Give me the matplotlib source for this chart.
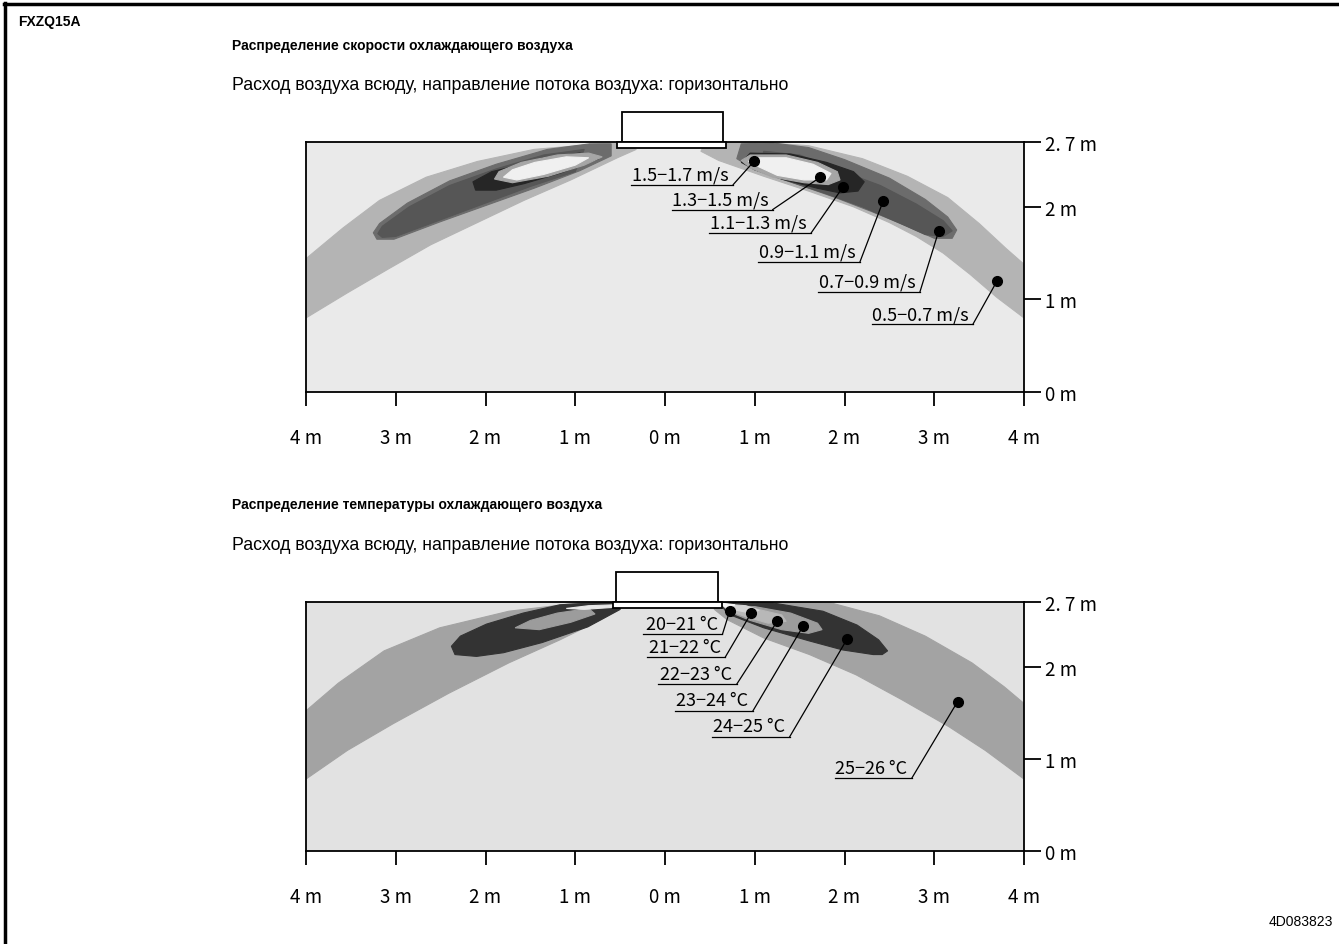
import matplotlib
matplotlib.use("Agg")
import matplotlib.pyplot as plt
from matplotlib.patches import Polygon, Rectangle
from matplotlib.lines import Line2D

# ---- axis ticks ----
x_ticks = [-4, -3, -2, -1, 0, 1, 2, 3, 4]
x_labels = ["4 m", "3 m", "2 m", "1 m", "0 m", "1 m", "2 m", "3 m", "4 m"]
y_ticks = [0, 1, 2, 2.7]
y_labels = ["0 m", "1 m", "2 m", "2. 7 m"]

# ---- velocity panel: band outlines (m) ----
v_05_left = [(-0.45, 2.69), (-0.74, 2.68), (-1.46, 2.62), (-2.09, 2.49), (-2.66, 2.32), (-3.18, 2.07),
             (-3.59, 1.77), (-4.0, 1.44), (-4.0, 0.80), (-3.54, 1.07), (-3.08, 1.33), (-2.61, 1.59),
             (-2.09, 1.83), (-1.57, 2.07), (-1.05, 2.29), (-0.53, 2.53), (-0.32, 2.62)]
v_05_right = [(0.45, 2.69), (1.0, 2.70), (1.6, 2.66), (2.2, 2.52), (2.7, 2.33), (3.15, 2.10), (3.5, 1.82),
              (3.8, 1.55), (4.0, 1.38), (4.0, 0.80), (3.7, 1.02), (3.4, 1.27), (3.1, 1.50), (2.8, 1.68),
              (2.5, 1.83), (2.1, 2.00), (1.6, 2.17), (1.1, 2.33), (0.6, 2.50), (0.4, 2.60)]
v_07_left = [(-0.6, 2.68), (-0.84, 2.68), (-1.31, 2.62), (-1.88, 2.46), (-2.40, 2.28), (-2.87, 2.04),
             (-3.18, 1.82), (-3.25, 1.72), (-3.21, 1.65), (-3.02, 1.65), (-2.50, 1.84), (-1.98, 2.02),
             (-1.46, 2.20), (-0.95, 2.39), (-0.6, 2.55)]
v_07_right = [(0.85, 2.68), (1.2, 2.69), (1.6, 2.64), (2.0, 2.51), (2.5, 2.31), (2.9, 2.08), (3.15, 1.89),
              (3.25, 1.75), (3.2, 1.66), (3.0, 1.66), (2.7, 1.79), (2.3, 1.95), (1.9, 2.10), (1.4, 2.27),
              (1.0, 2.40), (0.8, 2.52)]
v_09_left = [(-0.9, 2.62), (-1.35, 2.56), (-1.88, 2.41), (-2.40, 2.23), (-2.85, 2.00), (-3.15, 1.79),
             (-3.2, 1.71), (-3.15, 1.67), (-3.0, 1.68), (-2.5, 1.86), (-2.0, 2.04), (-1.5, 2.22), (-1.0, 2.38)]
v_09_right = [(1.1, 2.60), (1.5, 2.56), (1.9, 2.41), (2.4, 2.23), (2.8, 2.03), (3.1, 1.85), (3.2, 1.74),
              (3.1, 1.68), (2.9, 1.70), (2.6, 1.83), (2.2, 2.0), (1.8, 2.14), (1.3, 2.3), (1.05, 2.42)]
v_11_left = [(-1.62, 2.45), (-1.93, 2.38), (-2.14, 2.27), (-2.11, 2.18), (-1.88, 2.18), (-1.57, 2.25),
             (-1.15, 2.37), (-0.74, 2.52), (-0.95, 2.58), (-1.36, 2.53)]
v_11_right = [(0.95, 2.58), (1.4, 2.57), (1.8, 2.48), (2.1, 2.38), (2.22, 2.27), (2.15, 2.17), (1.95, 2.15),
              (1.7, 2.20), (1.3, 2.30), (1.0, 2.40), (0.85, 2.48)]
v_13_left = [(-1.9, 2.30), (-1.85, 2.38), (-1.6, 2.48), (-1.2, 2.56), (-0.85, 2.58), (-0.7, 2.54),
             (-0.9, 2.45), (-1.3, 2.33), (-1.7, 2.26)]
v_13_right = [(0.95, 2.56), (1.35, 2.56), (1.7, 2.48), (1.92, 2.38), (1.95, 2.29), (1.82, 2.24),
              (1.55, 2.26), (1.2, 2.32), (0.95, 2.42), (0.85, 2.50)]
v_15_left = [(-1.8, 2.32), (-1.7, 2.40), (-1.45, 2.48), (-1.1, 2.54), (-0.85, 2.53), (-1.0, 2.45),
             (-1.35, 2.35), (-1.65, 2.29)]
v_15_right = [(1.0, 2.53), (1.35, 2.53), (1.65, 2.46), (1.85, 2.36), (1.80, 2.29), (1.55, 2.29),
              (1.25, 2.34), (1.05, 2.43), (0.93, 2.49)]

v_labels = ["1.5−1.7 m/s", "1.3−1.5 m/s", "1.1−1.3 m/s", "0.9−1.1 m/s", "0.7−0.9 m/s", "0.5−0.7 m/s"]
v_dot_x = [0.99, 1.73, 1.98, 2.43, 3.05, 3.70]
v_dot_y = [2.49, 2.32, 2.21, 2.06, 1.74, 1.20]
v_line_x0 = [-0.38, 0.08, 0.49, 1.04, 1.70, 2.31]
v_line_x1 = [0.76, 1.20, 1.63, 2.17, 2.84, 3.43]
v_line_y = [2.24, 1.97, 1.72, 1.40, 1.08, 0.73]

# ---- temperature panel ----
t_25_left = [(-0.5, 2.70), (-0.96, 2.69), (-1.74, 2.60), (-2.51, 2.42), (-3.13, 2.17), (-3.64, 1.82),
             (-4.0, 1.52), (-4.0, 0.78), (-3.54, 1.09), (-3.03, 1.38), (-2.41, 1.71), (-1.74, 2.04),
             (-1.17, 2.29), (-0.71, 2.51), (-0.5, 2.62)]
t_25_right = [(0.55, 2.70), (1.1, 2.70), (1.85, 2.69), (2.39, 2.55), (2.9, 2.33), (3.42, 2.04), (3.78, 1.78),
              (4.0, 1.60), (4.0, 0.78), (3.57, 1.09), (3.16, 1.35), (2.64, 1.64), (2.13, 1.91), (1.61, 2.13),
              (1.10, 2.31), (0.69, 2.51), (0.55, 2.62)]
t_24_left = [(-0.5, 2.70), (-0.8, 2.69), (-1.17, 2.67), (-1.58, 2.58), (-1.99, 2.46), (-2.28, 2.33),
             (-2.38, 2.22), (-2.34, 2.13), (-2.1, 2.11), (-1.8, 2.15), (-1.37, 2.26), (-0.86, 2.43), (-0.5, 2.62)]
t_24_right = [(0.6, 2.70), (1.2, 2.69), (1.76, 2.60), (2.14, 2.45), (2.38, 2.29), (2.48, 2.17), (2.42, 2.13),
              (2.32, 2.13), (1.98, 2.18), (1.6, 2.28), (1.1, 2.42), (0.7, 2.57)]
t_23_left = [(-1.67, 2.42), (-1.5, 2.50), (-1.2, 2.58), (-0.85, 2.63), (-0.78, 2.57), (-1.05, 2.48),
             (-1.4, 2.40)]
t_23_right = [(0.65, 2.66), (1.0, 2.65), (1.4, 2.58), (1.7, 2.47), (1.75, 2.40), (1.6, 2.36), (1.3, 2.40),
              (0.95, 2.50), (0.7, 2.60)]
t_22_right = [(0.65, 2.66), (0.95, 2.64), (1.3, 2.56), (1.35, 2.49), (1.15, 2.47), (0.9, 2.54), (0.7, 2.61)]
t_21_left = [(-0.55, 2.67), (-0.85, 2.66), (-1.1, 2.63), (-0.9, 2.62), (-0.6, 2.64)]
t_21_right = [(0.62, 2.68), (0.9, 2.66), (1.05, 2.61), (0.95, 2.58), (0.75, 2.62)]
t_20_right = [(0.6, 2.69), (0.78, 2.67), (0.7, 2.63)]

t_labels = ["20−21 °C", "21−22 °C", "22−23 °C", "23−24 °C", "24−25 °C", "25−26 °C"]
t_dot_x = [0.72, 0.96, 1.25, 1.54, 2.03, 3.26]
t_dot_y = [2.60, 2.58, 2.49, 2.44, 2.30, 1.62]
t_line_x0 = [-0.25, -0.20, -0.08, 0.11, 0.52, 1.89]
t_line_x1 = [0.64, 0.67, 0.80, 0.98, 1.39, 2.75]
t_line_y = [2.35, 2.10, 1.81, 1.52, 1.24, 0.79]

JP = ["Noto Sans CJK JP", "DejaVu Sans"]
NARROW = ["Liberation Sans Narrow", "Liberation Sans", "DejaVu Sans"]
ARIAL = ["Liberation Sans", "DejaVu Sans"]

fig = plt.figure(figsize=(13.39, 9.45), dpi=100)


def setup_axes(ax, bg):
    ax.set_xlim(-4, 4)
    ax.set_ylim(0, 2.7)
    ax.set_facecolor(bg)
    for s in ["left", "right", "top", "bottom"]:
        ax.spines[s].set_linewidth(1.3)
    ax.set_xticks(x_ticks)
    ax.set_xticklabels(x_labels, family=JP, fontsize=13.5)
    ax.tick_params(axis="x", direction="out", length=10, width=1.3, pad=15)
    ax.yaxis.tick_right()
    ax.set_yticks(y_ticks)
    ax.set_yticklabels(y_labels, family=JP, fontsize=13.5)
    ax.tick_params(axis="y", direction="out", length=12, width=1.3, pad=3)


def draw_unit(ax, bx0, bx1, px0, px1):
    ax.add_patch(Rectangle((bx0, 2.7), bx1 - bx0, 0.32, fc="white", ec="black", lw=1.3, clip_on=False, zorder=5))
    ax.add_patch(Rectangle((px0, 2.635), px1 - px0, 0.065, fc="white", ec="black", lw=1.3, clip_on=False, zorder=6))


def draw_labels(ax, labels, dx, dy, lx0, lx1, ly):
    for i in range(len(labels)):
        ax.plot([lx0[i], lx1[i]], [ly[i], ly[i]], color="black", lw=0.9, zorder=7)
        ax.plot([lx1[i], dx[i]], [ly[i], dy[i]], color="black", lw=0.9, zorder=7)
        ax.plot(dx[i], dy[i], "o", color="black", ms=7, zorder=8)
        ax.text(lx1[i] - 0.05, ly[i] + 0.015, labels[i], ha="right", va="bottom",
                family=JP, fontsize=13, zorder=8)


# velocity
ax1 = fig.add_axes([306 / 1339, 1 - 393 / 945, 718 / 1339, 250 / 945])
setup_axes(ax1, "#eaeaea")
v_bands = [(v_05_left, v_05_right), (v_07_left, v_07_right), (v_09_left, v_09_right),
           (v_11_left, v_11_right), (v_13_left, v_13_right), (v_15_left, v_15_right)]
v_colors = ["#b4b4b4", "#6c6c6c", "#565656", "#262626", "#a6a6a6", "#f0f0f0"]
for polys, c in zip(v_bands, v_colors):
    for p in polys:
        ax1.add_patch(Polygon(p, closed=True, fc=c, ec=c, lw=0.8))
draw_unit(ax1, -0.48, 0.65, -0.54, 0.68)
draw_labels(ax1, v_labels, v_dot_x, v_dot_y, v_line_x0, v_line_x1, v_line_y)

# temperature
ax2 = fig.add_axes([306 / 1339, 1 - 852 / 945, 718 / 1339, 249 / 945])
setup_axes(ax2, "#e2e2e2")
t_polys = [t_25_left, t_25_right, t_24_left, t_24_right, t_23_left, t_23_right,
           t_22_right, t_21_left, t_21_right, t_20_right]
t_colors = ["#a3a3a3", "#a3a3a3", "#333333", "#333333", "#9c9c9c", "#9c9c9c",
            "#b8b8b8", "#e8e8e8", "#d4d4d4", "#f6f6f6"]
for p, c in zip(t_polys, t_colors):
    ax2.add_patch(Polygon(p, closed=True, fc=c, ec=c, lw=0.8))
draw_unit(ax2, -0.55, 0.59, -0.58, 0.64)
draw_labels(ax2, t_labels, t_dot_x, t_dot_y, t_line_x0, t_line_x1, t_line_y)

# page frame and texts
fig.add_artist(Line2D([5 / 1339, 5 / 1339], [0, 1 - 4 / 945], color="black", lw=2.5))
fig.add_artist(Line2D([4 / 1339, 1], [1 - 5 / 945, 1 - 5 / 945], color="black", lw=2.5))

fig.text(18 / 1339, 1 - 22 / 945, "FXZQ15A", family=ARIAL, weight="bold", fontsize=10, va="center")
fig.text(232 / 1339, 1 - 46 / 945, "Распределение скорости охлаждающего воздуха", family=NARROW,
         weight="bold", fontsize=10, va="center")
fig.text(232 / 1339, 1 - 85 / 945, "Расход воздуха всюду, направление потока воздуха: горизонтально",
         family=NARROW, fontsize=12.8, va="center")
fig.text(232 / 1339, 1 - 505 / 945, "Распределение температуры охлаждающего воздуха", family=NARROW,
         weight="bold", fontsize=10, va="center")
fig.text(232 / 1339, 1 - 545 / 945, "Расход воздуха всюду, направление потока воздуха: горизонтально",
         family=NARROW, fontsize=12.8, va="center")
fig.text(1333 / 1339, 1 - 922 / 945, "4D083823", family=ARIAL, fontsize=10, ha="right", va="center")

fig.savefig("out.png", dpi=100)
